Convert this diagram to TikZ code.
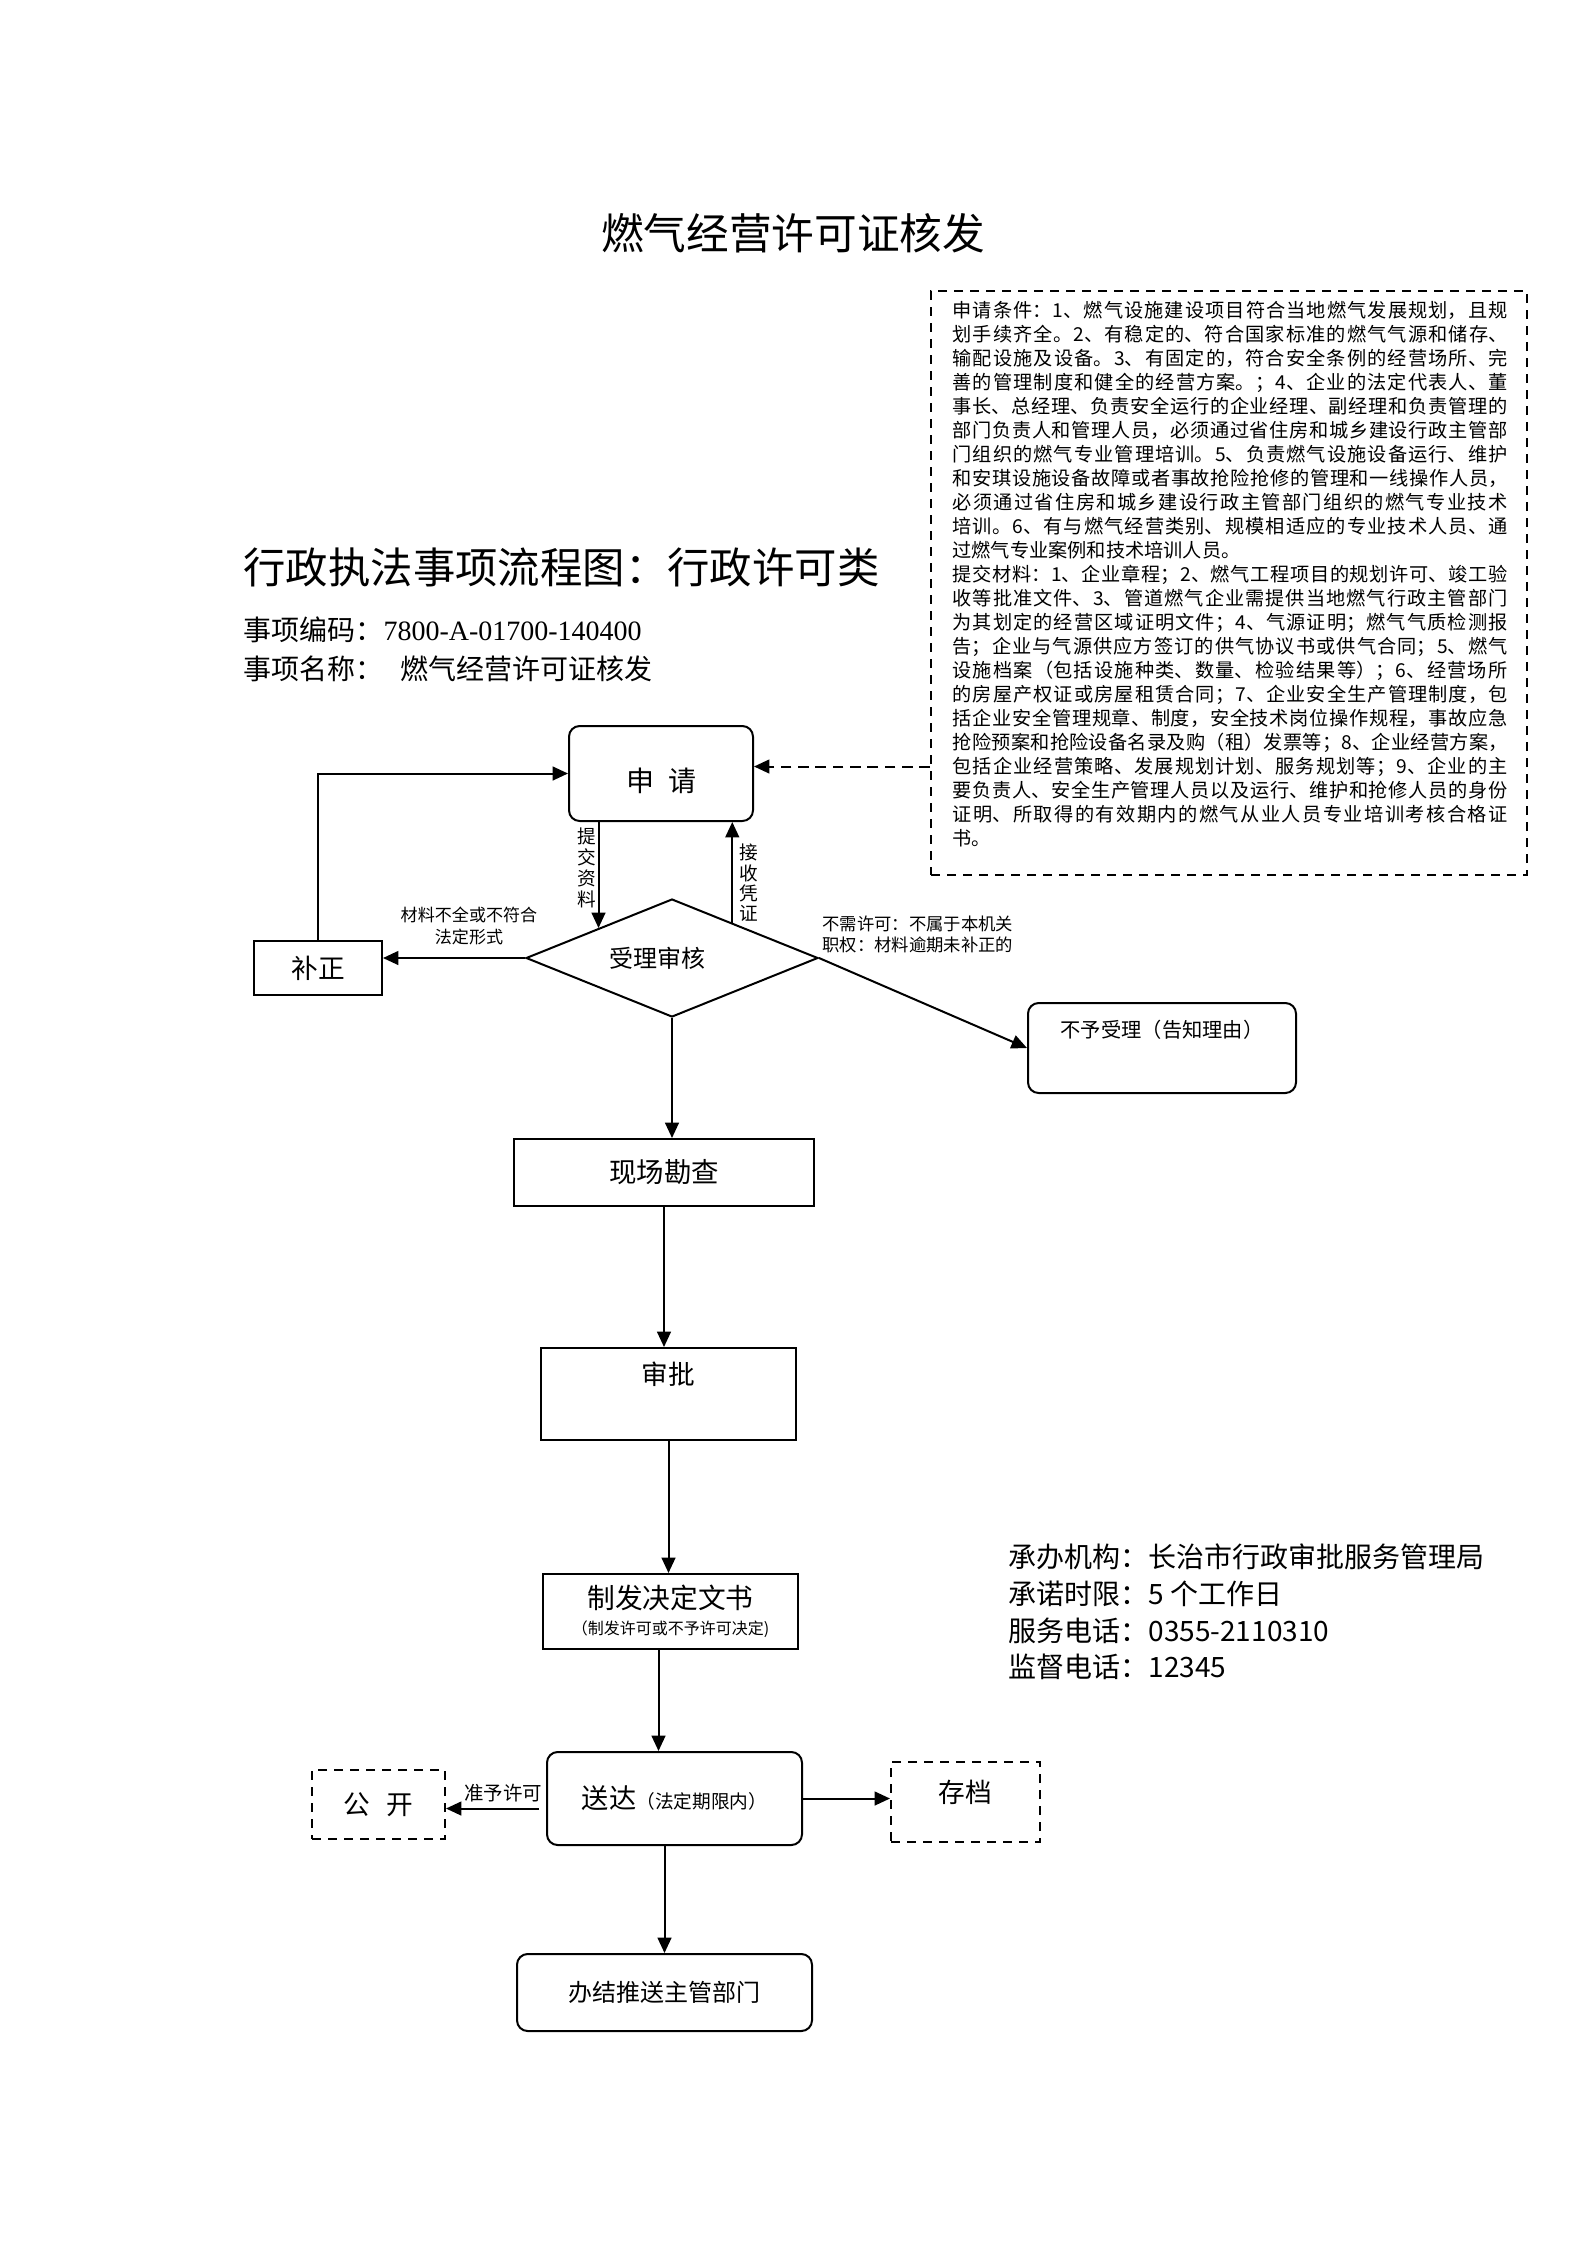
\documentclass[tikz,border=0pt]{standalone}
\usepackage{fontspec}
\setmainfont{Noto Sans CJK SC}
\newfontfamily\tms{Liberation Serif}
\usetikzlibrary{shapes.geometric,arrows.meta,calc}
\newcommand\fsz[2]{\fontsize{#1}{#2}\selectfont}
\newcommand\px[1]{#1*0.375pt}
\newcommand\zhjust{\XeTeXlinebreaklocale "zh"\XeTeXlinebreakskip=0pt plus 3pt\relax\parindent=0pt\relax}
\tikzset{
 lw/.style={line width=0.75pt},
 arr/.style={lw,-{Triangle[length=5.8pt,width=5.2pt]}},
 sbox/.style={draw,lw,rectangle,inner sep=0pt},
 rbox/.style={sbox,rounded corners=4pt},
 dbox/.style={sbox,dash pattern=on 3.5pt off 2.5pt},
 diabox/.style={draw,lw,diamond,inner sep=0pt,aspect=2.5},
 lbl/.style={inner sep=0pt,align=center},
}
\begin{document}
\begin{tikzpicture}[x=0.375pt,y=-0.375pt]
\useasboundingbox (0,0) rectangle (1587,2245);

% headings
\node[lbl,font=\fsz{16}{18}] (title) at (793,233) {燃气经营许可证核发};
\node[lbl,anchor=west,font=\fsz{15.9}{20}] (subtitle) at (243,567) {行政执法事项流程图：行政许可类};
\node[lbl,anchor=west,font=\fsz{10.5}{12}] (code) at (243,630) {事项编码：{\tms 7800-A-01700-140400}};
\node[lbl,anchor=west,font=\fsz{10.5}{12}] (name) at (243,669) {事项名称：\hspace{0.6em}燃气经营许可证核发};

% note box
\node[dbox,minimum width=\px{596},minimum height=\px{584}] (notebox) at (1229,583) {};
\node[inner sep=0pt,anchor=north west,text width=\px{555},align=justify,font=\fsz{7.2}{9}\zhjust] (notetext) at (952,301) {申请条件：1、燃气设施建设项目符合当地燃气发展规划，且规\linebreak
划手续齐全。2、有稳定的、符合国家标准的燃气气源和储存、\linebreak
输配设施及设备。3、有固定的，符合安全条例的经营场所、完\linebreak
善的管理制度和健全的经营方案。；4、企业的法定代表人、董\linebreak
事长、总经理、负责安全运行的企业经理、副经理和负责管理的\linebreak
部门负责人和管理人员，必须通过省住房和城乡建设行政主管部\linebreak
门组织的燃气专业管理培训。5、负责燃气设施设备运行、维护\linebreak
和安琪设施设备故障或者事故抢险抢修的管理和一线操作人员，\linebreak
必须通过省住房和城乡建设行政主管部门组织的燃气专业技术\linebreak
培训。6、有与燃气经营类别、规模相适应的专业技术人员、通\linebreak
过燃气专业案例和技术培训人员。\\
提交材料：1、企业章程；2、燃气工程项目的规划许可、竣工验\linebreak
收等批准文件、3、管道燃气企业需提供当地燃气行政主管部门\linebreak
为其划定的经营区域证明文件；4、气源证明；燃气气质检测报\linebreak
告；企业与气源供应方签订的供气协议书或供气合同；5、燃气\linebreak
设施档案（包括设施种类、数量、检验结果等）；6、经营场所\linebreak
的房屋产权证或房屋租赁合同；7、企业安全生产管理制度，包\linebreak
括企业安全管理规章、制度，安全技术岗位操作规程，事故应急\linebreak
抢险预案和抢险设备名录及购（租）发票等；8、企业经营方案，\linebreak
包括企业经营策略、发展规划计划、服务规划等；9、企业的主\linebreak
要负责人、安全生产管理人员以及运行、维护和抢修人员的身份\linebreak
证明、所取得的有效期内的燃气从业人员专业培训考核合格证\linebreak
书。};

% flow nodes
\node[rbox,minimum width=\px{184},minimum height=\px{95},font=\fsz{10.5}{12},text height=15pt,text depth=1.5pt] (shenqing) at (661,773.5) {申\hspace{0.5em}请};
\node[sbox,minimum width=\px{128},minimum height=\px{54},font=\fsz{10}{12}] (buzheng) at (318,968) {补正};
\node[diabox,minimum width=\px{292},minimum height=\px{118},font=\fsz{9}{11}] (dia) at (672,958) {受理审核\rule{1.2em}{0pt}};
\node[rbox,minimum width=\px{268},minimum height=\px{90},font=\fsz{7.6}{9},text height=6pt,text depth=13.7pt] (buyu) at (1162,1048) {不予受理（告知理由）};
\node[sbox,minimum width=\px{300},minimum height=\px{67},font=\fsz{10.3}{12}] (xianchang) at (664,1172.5) {现场勘查};
\node[sbox,minimum width=\px{255},minimum height=\px{92},font=\fsz{10}{12},text height=9pt,text depth=16.4pt] (shenpi) at (668.5,1394) {审批};
\node[sbox,minimum width=\px{255},minimum height=\px{75},align=center,font=\fsz{6}{9.6}] (zhifa) at (670.5,1611.5) {{\fsz{10.4}{9.6}制发决定文书}\\（制发许可或不予许可决定)};
\node[rbox,minimum width=\px{255},minimum height=\px{93},font=\fsz{10.2}{12}] (songda) at (674.5,1798.5) {送达{\fsz{7}{8}（法定期限内）}};
\node[dbox,minimum width=\px{133},minimum height=\px{69},font=\fsz{10}{12}] (gongkai) at (378.5,1804.5) {公\hspace{0.6em}开};
\node[dbox,minimum width=\px{149},minimum height=\px{80},font=\fsz{10}{12},text height=9pt,text depth=9pt] (cundang) at (965.5,1802) {存档};
\node[rbox,minimum width=\px{295},minimum height=\px{77},font=\fsz{9}{11}] (banjie) at (664.5,1992.5) {办结推送主管部门};

% info block
\node[lbl,anchor=west,align=left,font=\fsz{10.5}{13.75}] (info) at (1008,1612) {承办机构：长治市行政审批服务管理局\\承诺时限：5 个工作日\\服务电话：0355-2110310\\监督电话：12345};

% connectors
\draw[arr] (shenqing.south -| dia.north west) -- (dia.north west);
\coordinate (up1) at ($(dia.north)!0.82!(dia.north east)$);
\draw[arr] (up1) -- (up1 |- shenqing.south);
\draw[arr] (dia.west) -- (dia.west -| buzheng.east);
\draw[arr] (buzheng.north) |- (shenqing.west);
\coordinate (dashend) at ($(shenqing.east)+(0,-7)$);
\draw[arr,dash pattern=on 4pt off 2.5pt] (notebox.west |- dashend) -- (dashend);
\draw[arr] (dia.east) -- (buyu.west);
\draw[arr] (dia.south) -- (dia.south |- xianchang.north);
\draw[arr] (xianchang.south) -- (xianchang.south |- shenpi.north);
\draw[arr] (shenpi.south) -- (shenpi.south |- zhifa.north);
\coordinate (zs) at ($(zhifa.south)+(-12,0)$);
\draw[arr] (zs) -- (zs |- songda.north);
\coordinate (sw) at ($(songda.west)+(-7,10)$);
\draw[arr] (sw) -- (sw -| gongkai.east);
\draw[arr] (songda.east) -- (songda.east -| cundang.west);
\draw[arr] (songda.south -| banjie.north) -- (banjie.north);

% connector labels
\node[lbl,font=\fsz{7}{7.9}] (l1) at (587,868) {提\\交\\资\\料};
\node[lbl,font=\fsz{7}{7.6}] (l2) at (749,883) {接\\收\\凭\\证};
\node[lbl,font=\fsz{6.4}{8.2}] (l3) at (469,926) {材料不全或不符合\\法定形式};
\node[lbl,anchor=west,align=left,font=\fsz{6.5}{7.9}] (l4) at (822,934) {不需许可：不属于本机关\\职权：材料逾期未补正的};
\node[lbl,font=\fsz{7.3}{9}] (l5) at (503,1793) {准予许可};
\end{tikzpicture}
\end{document}
